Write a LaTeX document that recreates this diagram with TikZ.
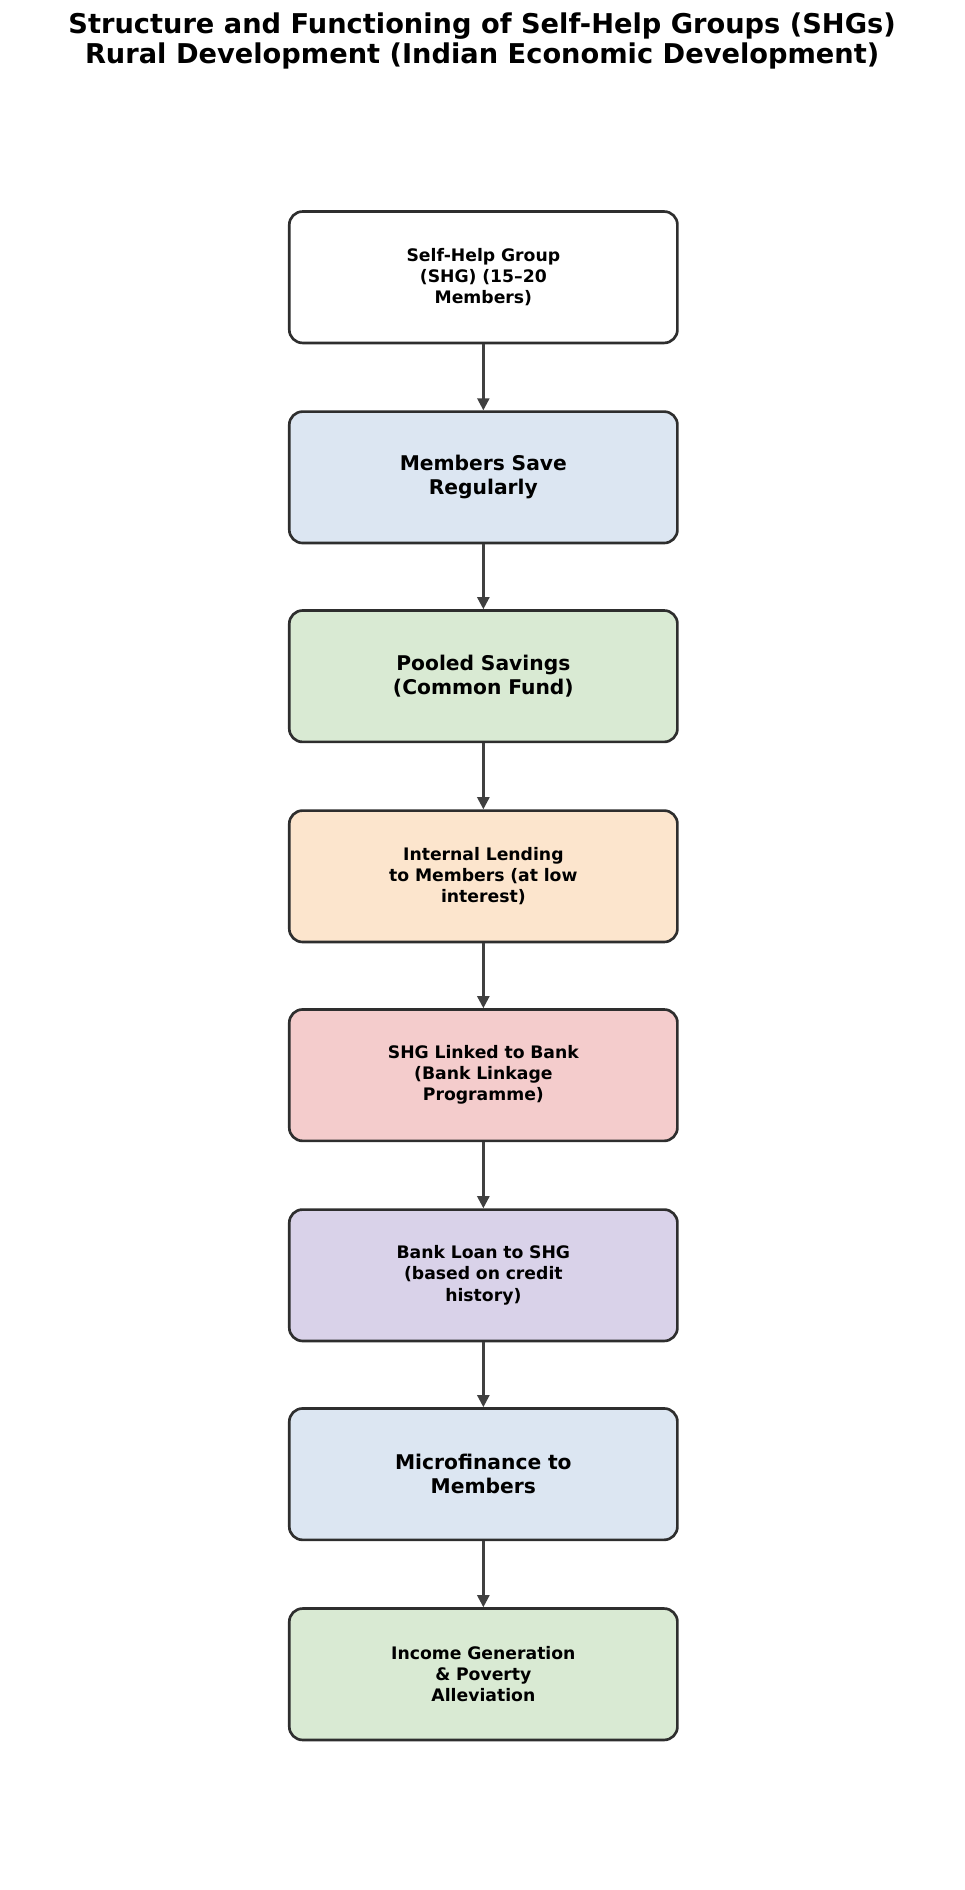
\documentclass[tikz,border=0pt]{standalone}
\usepackage{fontspec}
\setmainfont{DejaVu Sans}
\usetikzlibrary{arrows.meta}
\definecolor{cb}{HTML}{DCE6F2}
\definecolor{cg}{HTML}{D9EAD3}
\definecolor{co}{HTML}{FCE5CD}
\definecolor{cr}{HTML}{F4CCCC}
\definecolor{cp}{HTML}{D9D2E9}
\tikzset{
 box/.style={draw=black!82,line width=2.2pt,rounded corners=11pt,minimum width=322pt,minimum height=109pt,align=center,font=\bfseries\fontsize{14.3}{17.5}\selectfont,text width=220pt},
 big/.style={font=\bfseries\fontsize{16.8}{20}\selectfont},
 arr/.style={draw=black!75,line width=2pt,-{Triangle[length=10pt,width=10pt]}}
}
\begin{document}
\begin{tikzpicture}[x=1pt,y=-1pt]
\useasboundingbox (0,0) rectangle (800,1568);
\node[font=\bfseries\fontsize{22.6}{25}\selectfont,align=center] (title) at (400,34) {Structure and Functioning of Self-Help Groups (SHGs)\\Rural Development (Indian Economic Development)};
\node[box,fill=white] (n1) at (401,230) {Self-Help Group\\(SHG) (15--20\\Members)};
\node[box,big,fill=cb] (n2) at (401,396) {Members Save\\Regularly};
\node[box,big,fill=cg] (n3) at (401,561) {Pooled Savings\\(Common Fund)};
\node[box,fill=co] (n4) at (401,727) {Internal Lending\\to Members (at low\\interest)};
\node[box,fill=cr] (n5) at (401,892) {SHG Linked to Bank\\(Bank Linkage\\Programme)};
\node[box,fill=cp] (n6) at (401,1058) {Bank Loan to SHG\\(based on credit\\history)};
\node[box,big,fill=cb] (n7) at (401,1223) {Microfinance to\\Members};
\node[box,fill=cg] (n8) at (401,1389) {Income Generation\\\& Poverty\\Alleviation};
\foreach \a/\b in {n1/n2,n2/n3,n3/n4,n4/n5,n5/n6,n6/n7,n7/n8}
  \draw[arr] (\a) -- (\b);
\end{tikzpicture}
\end{document}
